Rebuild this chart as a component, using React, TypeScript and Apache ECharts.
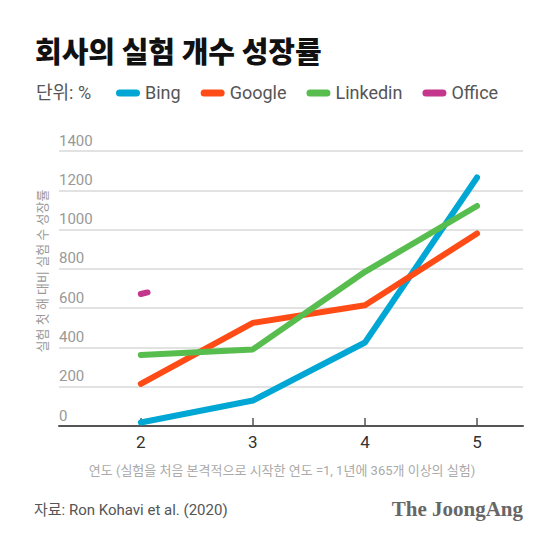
import React, { useEffect, useRef } from "react";
import * as echarts from "echarts";

const years = [2, 3, 4, 5];
const bing = [18, 130, 425, 1265];
const google = [215, 525, 615, 980];
const linkedin = [362, 390, 785, 1120];
const office: [number, number][] = [
  [2, 672],
  [2.06, 680],
];
const yTicks = [0, 200, 400, 600, 800, 1000, 1200, 1400];

const FONT = "Roboto, 'Noto Sans CJK KR', sans-serif";
const pill = "path://M3.5,0 H20.5 A3.5,3.5 0 0 1 20.5,7 H3.5 A3.5,3.5 0 0 1 3.5,0 Z";

const lineSeries = (name: string, color: string, data: any[]) => ({
  name,
  type: "line",
  data,
  symbol: "none",
  color,
  lineStyle: { width: 6, color, cap: "round", join: "round" },
});

const App = () => {
  const chartRef = useRef<HTMLDivElement>(null);

  useEffect(() => {
    const chart = echarts.init(chartRef.current as HTMLDivElement, null, {
      renderer: "svg",
    });

    const option = {
      animation: false,
      backgroundColor: "#fff",
      textStyle: { fontFamily: FONT },
      graphic: [
        {
          type: "text",
          x: 35,
          y: 50,
          style: {
            text: "회사의 실험 개수 성장률",
            fontFamily: "'Noto Sans CJK KR', sans-serif",
            fontSize: 29,
            fontWeight: 900,
            fill: "#111",
            textVerticalAlign: "middle",
          },
        },
        {
          type: "text",
          x: 42,
          y: 271,
          rotation: Math.PI / 2,
          style: {
            text: "실험 첫 해 대비 실험 수 성장률",
            fontFamily: FONT,
            fontSize: 13,
            fill: "#999",
            textAlign: "center",
            textVerticalAlign: "middle",
          },
        },
        {
          type: "text",
          x: 282,
          y: 470,
          style: {
            text: "연도 (실험을 처음 본격적으로 시작한 연도 =1, 1년에 365개 이상의 실험)",
            fontFamily: FONT,
            fontSize: 13,
            fill: "#aaa",
            textAlign: "center",
            textVerticalAlign: "middle",
          },
        },
        {
          type: "text",
          x: 36,
          y: 92,
          style: {
            text: "단위: %",
            fontFamily: FONT,
            fontSize: 18,
            fill: "#555",
            textVerticalAlign: "middle",
          },
        },
        {
          type: "text",
          x: 34,
          y: 510,
          style: {
            text: "자료: Ron Kohavi et al. (2020)",
            fontFamily: FONT,
            fontSize: 15,
            fill: "#555",
            textVerticalAlign: "middle",
          },
        },
        {
          type: "text",
          x: 523,
          y: 509,
          style: {
            text: "The JoongAng",
            fontFamily: "'Liberation Serif', serif",
            fontSize: 21,
            fontWeight: "bold",
            fill: "#666",
            textAlign: "right",
            textVerticalAlign: "middle",
          },
        },
      ],
      legend: {
        left: 111,
        top: 79,
        itemWidth: 24,
        itemHeight: 7,
        itemGap: 20,
        selectedMode: false,
        icon: pill,
        textStyle: { fontFamily: FONT, fontSize: 18, color: "#555" },
        data: ["Bing", "Google", "Linkedin", "Office"],
      },
      grid: { left: 59, right: 36, top: 151, bottom: 117 },
      xAxis: {
        type: "value",
        min: 1.27,
        max: 5.41,
        splitLine: { show: false },
        axisLine: { show: true, lineStyle: { color: "#555", width: 2 } },
        axisTick: {
          show: true,
          inside: true,
          length: 8,
          customValues: years,
          lineStyle: { color: "#555", width: 1.5 },
        },
        axisLabel: {
          customValues: years,
          fontFamily: FONT,
          fontSize: 17,
          color: "#333",
          margin: 7,
        },
      },
      yAxis: {
        type: "value",
        min: yTicks[0],
        max: yTicks[yTicks.length - 1],
        interval: 200,
        axisLine: { show: false },
        axisTick: { show: false },
        splitLine: { lineStyle: { color: "#d9d9d9", width: 1.5 } },
        axisLabel: {
          inside: true,
          margin: 0,
          verticalAlign: "bottom",
          padding: [0, 0, 3, 0],
          fontFamily: FONT,
          fontSize: 15,
          color: "#999",
          formatter: (v: number) => String(v),
        },
      },
      series: [
        lineSeries("Bing", "#00a7d4", years.map((y, i) => [y, bing[i]])),
        lineSeries("Google", "#ff4c17", years.map((y, i) => [y, google[i]])),
        lineSeries("Linkedin", "#57bd4f", years.map((y, i) => [y, linkedin[i]])),
        lineSeries("Office", "#c4358c", office),
      ],
    };
    chart.setOption(option);

    return () => {
      chart.dispose();
    };
  }, []);

  return <div ref={chartRef} style={{ width: "559px", height: "543px", margin: "-8px" }} />;
};

export default App;
